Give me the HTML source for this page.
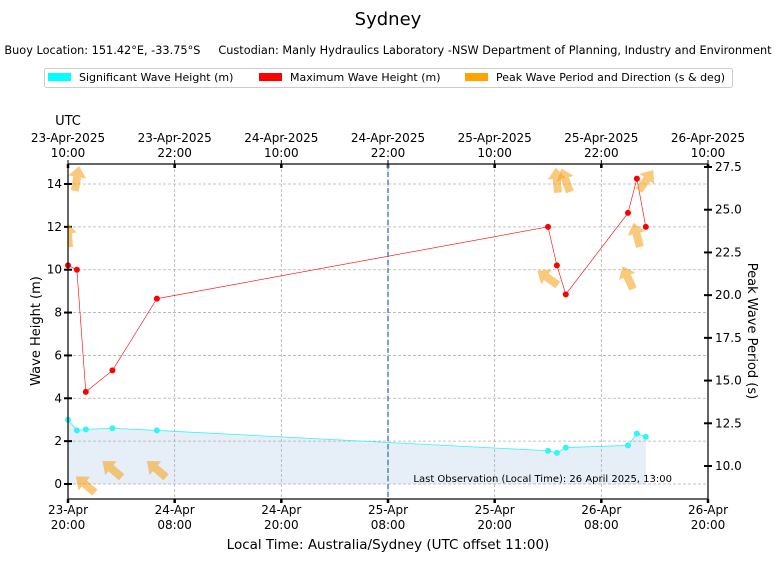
<!DOCTYPE html>
<html><head><meta charset="utf-8"><style>
body{margin:0;background:#fff;}
svg{display:block;font-family:"DejaVu Sans","Liberation Sans",sans-serif;}
</style></head><body>
<svg id="c" width="776" height="562" xmlns="http://www.w3.org/2000/svg">
<text x="388" y="25" font-size="18" text-anchor="middle">Sydney</text>
<text x="388" y="54" font-size="11.3" text-anchor="middle" xml:space="preserve" style="white-space:pre">Buoy Location: 151.42°E, -33.75°S     Custodian: Manly Hydraulics Laboratory -NSW Department of Planning, Industry and Environment</text>
<g>
<rect x="44.5" y="68.5" width="688" height="19" fill="#fff" stroke="#ccc" rx="2"/>
<rect x="48" y="73" width="23" height="8" fill="#00ffff"/><text x="79" y="81" font-size="11">Significant Wave Height (m)</text>
<rect x="259" y="73" width="23" height="8" fill="#ff0000"/><text x="290" y="81" font-size="11">Maximum Wave Height (m)</text>
<rect x="465" y="73" width="23" height="8" fill="#ffa500"/><text x="496" y="81" font-size="11">Peak Wave Period and Direction (s &amp; deg)</text>
</g>
<text x="68" y="125" font-size="13" text-anchor="middle">UTC</text>
<g id="plot"></g>
<text x="388" y="549" font-size="13.5" text-anchor="middle">Local Time: Australia/Sydney (UTC offset 11:00)</text>
<text transform="translate(40,331) rotate(-90)" font-size="13" text-anchor="middle">Wave Height (m)</text>
<text transform="translate(748,331) rotate(90)" font-size="13" text-anchor="middle">Peak Wave Period (s)</text>
</svg>
<script>
const hours=[0,1,2,5,10,54,55,56,63,64,65];
const hs=[3.0,2.5,2.55,2.6,2.5,1.55,1.45,1.7,1.8,2.35,2.2];
const hmax=[10.2,10.0,4.3,5.3,8.65,12.0,10.2,8.85,12.65,14.25,12.0];
const period=[23.5,26.8,8.9,9.8,9.8,21.0,26.7,26.7,21.0,23.5,26.7];
const arrowDir=[355,10,310,310,310,305,355,340,335,345,35];
const bottomTicks=["23-Apr\n20:00","24-Apr\n08:00","24-Apr\n20:00","25-Apr\n08:00","25-Apr\n20:00","26-Apr\n08:00","26-Apr\n20:00"];
const topTicks=["23-Apr-2025\n10:00","23-Apr-2025\n22:00","24-Apr-2025\n10:00","24-Apr-2025\n22:00","25-Apr-2025\n10:00","25-Apr-2025\n22:00","26-Apr-2025\n10:00"];
const yTicks=[0,2,4,6,8,10,12,14];
const y2Ticks=[10.0,12.5,15.0,17.5,20.0,22.5,25.0,27.5];
const markerHour=36;

const X0=68,X1=708,Y0=164,Y1=499;
const xs=h=>X0+h*(X1-X0)/72;
const ys=v=>484-v*300/14;
const y2=p=>466-(p-10)*299/17.5;
const NS="http://www.w3.org/2000/svg";
const g=document.getElementById('plot');
function el(t,a,p){const e=document.createElementNS(NS,t);for(const k in a)e.setAttribute(k,a[k]);(p||g).appendChild(e);return e;}

let fp="M"+xs(hours[0])+","+ys(0);
hours.forEach((h,i)=>fp+=" L"+xs(h)+","+ys(hs[i]));
fp+=" L"+xs(hours[hours.length-1])+","+ys(0)+"Z";
const fill=el('path',{d:fp,fill:'#e6eef7'});



bottomTicks.forEach((t,i)=>{const x=X0+i*(X1-X0)/6;
 if(i>0&&i<6){const l=el('line',{x1:x,x2:x,y1:Y0,y2:Y1,stroke:'#b0b0b0','stroke-dasharray':'3,2','stroke-width':0.8});}
 t.split("\n").forEach((s,j)=>{const tx=el('text',{x:x,y:514+j*15,'font-size':12,'text-anchor':'middle'});tx.textContent=s;});
 el('line',{x1:x,x2:x,y1:Y1,y2:Y1+4,stroke:'#000','stroke-width':2.5});
 el('line',{x1:x,x2:x,y1:Y0,y2:Y0+4,stroke:'#000','stroke-width':2.5});
 el('line',{x1:x,x2:x,y1:Y0,y2:Y0-4,stroke:'#000','stroke-width':1});
 topTicks[i].split("\n").forEach((s,j)=>{const tx=el('text',{x:x,y:142+j*15,'font-size':12,'text-anchor':'middle'});tx.textContent=s;});
});
yTicks.forEach(v=>{const y=ys(v);
 const l=el('line',{x1:X0,x2:X1,y1:y,y2:y,stroke:'#b0b0b0','stroke-dasharray':'3,2','stroke-width':0.8});
 el('line',{x1:X0-4,x2:X0+4,y1:y,y2:y,stroke:'#000','stroke-width':2});
 const t=el('text',{x:X0-6,y:y+4,'font-size':12,'text-anchor':'end'});t.textContent=v;});
y2Ticks.forEach(v=>{const y=y2(v);
 el('line',{x1:X1-4,x2:X1+4,y1:y,y2:y,stroke:'#000','stroke-width':2});
 const t=el('text',{x:X1+7,y:y+4,'font-size':12});t.textContent=v.toFixed(1);});

const ml=el('line',{x1:xs(markerHour),x2:xs(markerHour),y1:Y0,y2:Y1,stroke:'#4a8ab5','stroke-dasharray':'5,3','stroke-width':1.5});


function series(vals,col,name,lw){
 const pl=el('polyline',{points:hours.map((h,i)=>xs(h)+","+ys(vals[i])).join(" "),fill:'none',stroke:col,'stroke-width':lw});
 
 hours.forEach((h,i)=>{const c=el('circle',{cx:xs(h),cy:ys(vals[i]),r:3,fill:col});});
}
series(hs,'#33f5f5','hs',0.8);
series(hmax,'#ff0000','hmax',0.6);

const clip=el('clipPath',{id:'pc'});el('rect',{x:X0,y:Y0,width:X1-X0,height:Y1-Y0},clip);
const ag=el('g',{'clip-path':'url(#pc)'});
hours.forEach((h,i)=>{
 const a=el('path',{d:'M0,-13 L9,-2 L4,-2 L4,12 L-4,12 L-4,-2 L-9,-2 Z',fill:'#f5a623','fill-opacity':0.6,transform:`translate(${xs(h)},${y2(period[i])}) rotate(${arrowDir[i]})`},ag);
 
});

const fr=el('rect',{x:X0,y:Y0,width:X1-X0,height:Y1-Y0,fill:'none',stroke:'#000','stroke-width':1.2});

const lo=el('text',{x:672,y:482,'font-size':10,'text-anchor':'end'});lo.textContent="Last Observation (Local Time): 26 April 2025, 13:00";

</script>
</body></html>
